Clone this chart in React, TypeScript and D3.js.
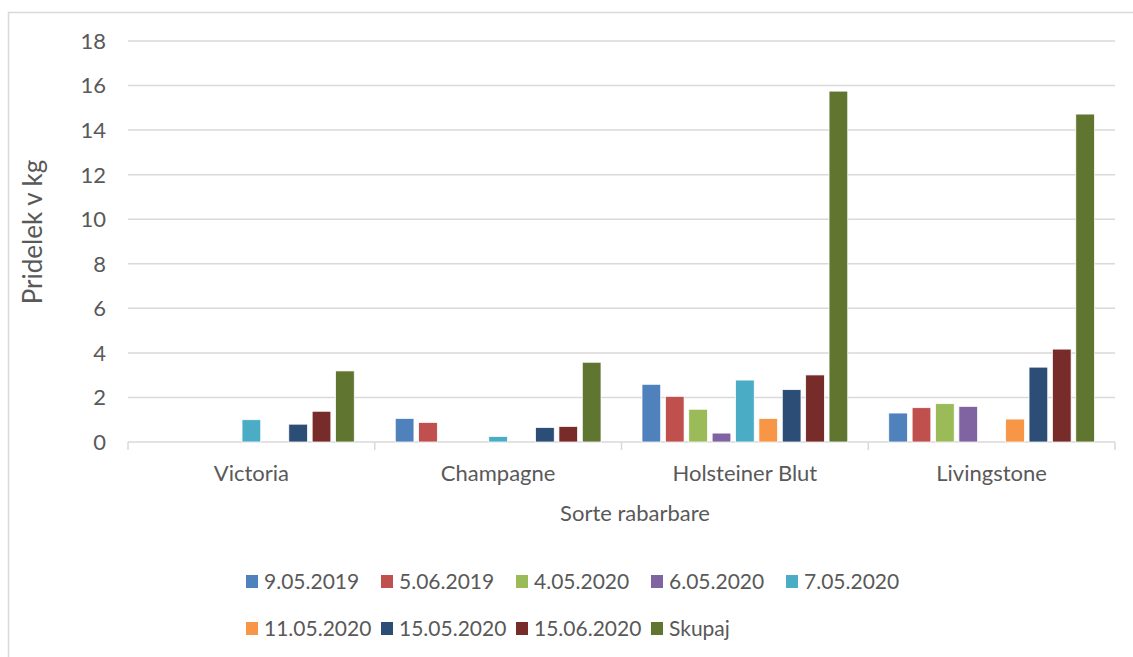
import React from "react";
import * as d3 from "d3";

const categories = ["Victoria", "Champagne", "Holsteiner Blut", "Livingstone"];
const seriesNames = [
  "9.05.2019",
  "5.06.2019",
  "4.05.2020",
  "6.05.2020",
  "7.05.2020",
  "11.05.2020",
  "15.05.2020",
  "15.06.2020",
  "Skupaj",
];
// values per series, in category order
const s1 = [0, 1.06, 2.59, 1.3];
const s2 = [0, 0.88, 2.05, 1.54];
const s3 = [0, 0, 1.47, 1.72];
const s4 = [0, 0, 0.4, 1.6];
const s5 = [1.0, 0.25, 2.78, 0];
const s6 = [0, 0, 1.06, 1.03];
const s7 = [0.8, 0.65, 2.35, 3.36];
const s8 = [1.38, 0.7, 3.01, 4.17];
const s9 = [3.19, 3.58, 15.75, 14.72];
const seriesValues = [s1, s2, s3, s4, s5, s6, s7, s8, s9];
const colors = [
  "#4F81BD",
  "#C0504D",
  "#9BBB59",
  "#8064A2",
  "#4BACC6",
  "#F79646",
  "#2C4D75",
  "#772C2A",
  "#5F7530",
];
const yTicks = [0, 2, 4, 6, 8, 10, 12, 14, 16, 18];

const FONT = "Lato, 'Open Sans', sans-serif";
const TXT = "#595959";

export default function App() {
  const W = 1133;
  const H = 657;
  const left = 128;
  const right = 1115;
  const top = 41;
  const bottom = 442;

  const y = d3.scaleLinear().domain([0, 18]).range([bottom, top]);
  const x0 = d3.scaleBand().domain(categories).range([left, right]).paddingInner(0).paddingOuter(0);
  const groupPad = 20.5;
  const x1 = d3
    .scaleBand()
    .domain(seriesNames)
    .range([groupPad, x0.bandwidth() - groupPad])
    .paddingInner(0.2)
    .paddingOuter(0);

  const legendCols = [246, 381, 516, 651, 786];
  const legendRows = [575, 622];

  return (
    <svg
      width={W}
      height={H}
      style={{ position: "absolute", left: 0, top: 0, display: "block", background: "#fff" }}
      fontFamily={FONT}
    >
      <rect x={8.5} y={12.5} width={1140} height={700} fill="#fff" stroke="#d9d9d9" strokeWidth={1.5} />
      {yTicks.map((t) => (
        <g key={t}>
          <line x1={left} x2={right} y1={y(t)} y2={y(t)} stroke="#d9d9d9" strokeWidth={1.5} />
          <text x={106} y={y(t)} dy="0.36em" textAnchor="end" fontSize={22} fill={TXT}>
            {t}
          </text>
        </g>
      ))}
      {d3.range(categories.length + 1).map((i) => {
        const xx = left + i * x0.bandwidth();
        return <line key={i} x1={xx} x2={xx} y1={bottom} y2={bottom + 8} stroke="#d9d9d9" strokeWidth={1.5} />;
      })}
      {categories.map((c, ci) => (
        <g key={c} transform={`translate(${x0(c)},0)`}>
          {seriesNames.map((s, si) => {
            const v = seriesValues[si][ci];
            if (!v) return null;
            return (
              <rect
                key={s}
                x={x1(s)}
                y={y(v)}
                width={x1.bandwidth()}
                height={bottom - y(v)}
                fill={colors[si]}
                stroke="#fff"
                strokeWidth={0.75}
              />
            );
          })}
          <text x={x0.bandwidth() / 2} y={473} dy="0.36em" textAnchor="middle" fontSize={22} fill={TXT}>
            {c}
          </text>
        </g>
      ))}
      <text x={635} y={513} dy="0.36em" textAnchor="middle" fontSize={22} fill={TXT}>
        Sorte rabarbare
      </text>
      <text
        transform={`translate(33,232) rotate(-90)`}
        dy="0.36em"
        textAnchor="middle"
        fontSize={26}
        fill={TXT}
      >
        Pridelek v kg
      </text>
      {seriesNames.map((s, i) => {
        const row = i < 5 ? 0 : 1;
        const col = i < 5 ? i : i - 5;
        const lx = legendCols[col];
        const ly = legendRows[row];
        return (
          <g key={s}>
            <rect x={lx} y={ly} width={12} height={13} fill={colors[i]} />
            <text x={lx + 18} y={ly + 6.5} dy="0.36em" fontSize={21} fill={TXT}>
              {s}
            </text>
          </g>
        );
      })}
    </svg>
  );
}
